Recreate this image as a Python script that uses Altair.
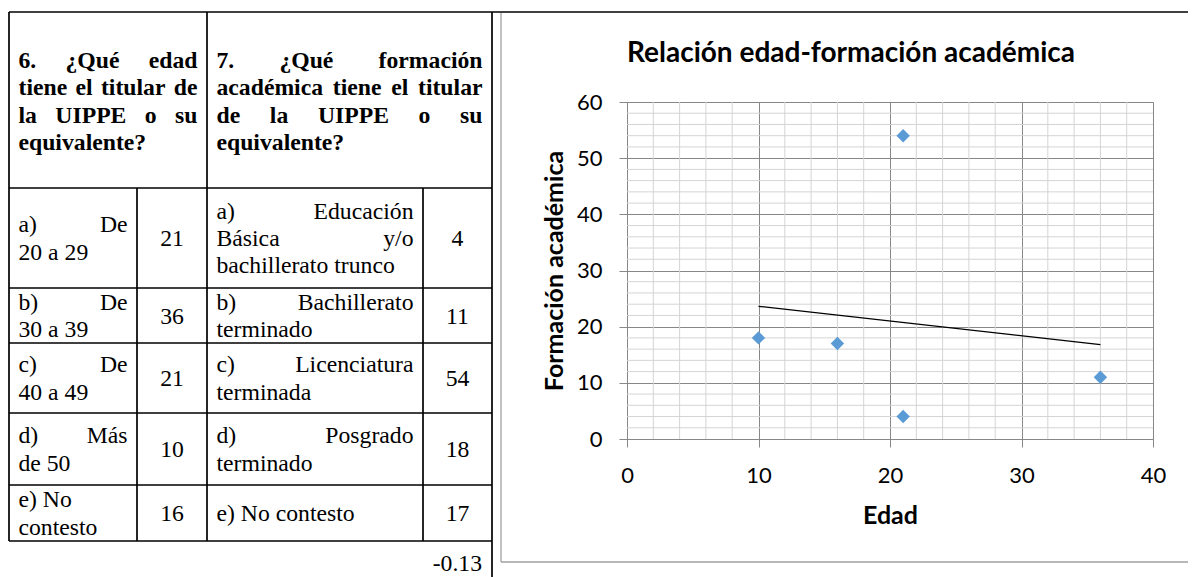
import altair as alt
import pandas as pd
import numpy as np

# ---------------- data ----------------
q6_text = "6. ¿Qué edad\ntiene el titular de\nla UIPPE o su\nequivalente?"
q7_text = "7. ¿Qué formación\nacadémica tiene el titular\nde la UIPPE o su\nequivalente?"
edad_labels = ["a) De\n20 a 29", "b) De\n30 a 39", "c) De\n40 a 49", "d) Más\nde 50", "e) No\ncontesto"]
edad_counts = [21, 36, 21, 10, 16]
form_labels = ["a) Educación\nBásica y/o\nbachillerato trunco", "b) Bachillerato\nterminado",
               "c) Licenciatura\nterminada", "d) Posgrado\nterminado", "e) No contesto"]
form_counts = [4, 11, 54, 18, 17]
chart_title = "Relación edad-formación académica"
x_title = "Edad"
y_title = "Formación académica"
x_ticks = [0, 10, 20, 30, 40]
y_ticks = [0, 10, 20, 30, 40, 50, 60]
x_minor = [2, 4, 6, 8, 12, 14, 16, 18, 22, 24, 26, 28, 32, 34, 36, 38]
y_minor = [2, 4, 6, 8, 12, 14, 16, 18, 22, 24, 26, 28, 32, 34, 36, 38,
           42, 44, 46, 48, 52, 54, 56, 58]

# ---------------- layout / style ----------------
COL_X = [9, 137, 207, 423, 492]            # table column borders (page px)
ROW_Y = [12, 188, 288, 343, 413, 485, 541]  # table row borders (page px)
PAD = 9.5
LH = 27.4
FS_TAB = 23.7
edad_justify = [True, True, True, True, False]
MAJOR = "#878787"
MINOR = "#d4d4d4"
BLUE = "#5B9BD5"

# Times bold advance widths (per 1000 em) for justified header lines
TB = {' ': 250, '.': 250, '?': 500, '¿': 500, '6': 500, '7': 500, 'Q': 778, 'U': 722,
      'I': 389, 'P': 611, 'E': 667, 'a': 500, 'c': 444, 'd': 556, 'e': 444, 'é': 444,
      'f': 333, 'i': 278, 'l': 278, 'm': 833, 'n': 556, 'o': 500, 'ó': 500, 'á': 500,
      'r': 444, 's': 389, 't': 333, 'u': 556, 'v': 500, 'q': 556}

texts = []


def put(text, x0, x1, yc, weight, justify=True):
    lines = text.split("\n")
    n = len(lines)
    for i, line in enumerate(lines):
        y = yc + (i - (n - 1) / 2) * LH
        words = line.split(" ")
        if justify and i < n - 1 and len(words) > 1:
            widths = [sum(TB.get(c, 500) for c in w) / 1000 * FS_TAB for w in words]
            gap = (x1 - x0 - sum(widths)) / (len(words) - 1)
            x = x0
            for j, w in enumerate(words):
                if j == len(words) - 1:
                    texts.append(dict(x=x1, y=y, t=w, a="right", w=weight))
                else:
                    texts.append(dict(x=x, y=y, t=w, a="left", w=weight))
                x += widths[j] + gap
        else:
            texts.append(dict(x=x0, y=y, t=line, a="left", w=weight))


hy = (ROW_Y[0] + ROW_Y[1]) / 2 + 2
put(q6_text, COL_X[0] + PAD, COL_X[2] - PAD, hy, "bold")
put(q7_text, COL_X[2] + PAD, COL_X[4] - PAD, hy, "bold")
for r in range(5):
    yc = (ROW_Y[r + 1] + ROW_Y[r + 2]) / 2 + 1
    put(edad_labels[r], COL_X[0] + PAD, COL_X[1] - PAD, yc, "normal", edad_justify[r])
    texts.append(dict(x=(COL_X[1] + COL_X[2]) / 2, y=yc, t=str(edad_counts[r]), a="center", w="normal"))
    put(form_labels[r], COL_X[2] + PAD, COL_X[3] - PAD, yc, "normal")
    texts.append(dict(x=(COL_X[3] + COL_X[4]) / 2, y=yc, t=str(form_counts[r]), a="center", w="normal"))

corr = np.corrcoef(edad_counts, form_counts)[0, 1]
texts.append(dict(x=COL_X[4] - 10, y=564, t=f"{corr:.2f}", a="right", w="normal"))
text_df = pd.DataFrame(texts)

rules = []


def seg(x, y, x2, y2, c="black", sw=1.7):
    rules.append(dict(x=x, y=y, x2=x2, y2=y2, c=c, sw=sw))


seg(COL_X[0], ROW_Y[0], 1200, ROW_Y[0])
for yy in ROW_Y[1:]:
    seg(COL_X[0], yy, COL_X[4], yy)
seg(COL_X[0], ROW_Y[0], COL_X[0], ROW_Y[-1])
seg(COL_X[2], ROW_Y[0], COL_X[2], ROW_Y[-1])
seg(COL_X[4], ROW_Y[0], COL_X[4], 590)
seg(COL_X[1], ROW_Y[1], COL_X[1], ROW_Y[-1])
seg(COL_X[3], ROW_Y[1], COL_X[3], ROW_Y[-1])
# chart frame
seg(501, 13, 501, 562, "#a0a0a0", 1.3)
seg(501, 562, 1200, 562, "#a0a0a0", 1.3)
rule_df = pd.DataFrame(rules)

TX = alt.Scale(domain=[0, 1196], range=[-627, 569], nice=False, zero=False)
TY = alt.Scale(domain=[0, 577], range=[-102, 475], nice=False, zero=False)

rule_layer = alt.Chart(rule_df).mark_rule().encode(
    x=alt.X("x:Q", scale=TX, axis=None),
    x2="x2:Q",
    y=alt.Y("y:Q", scale=TY, axis=None),
    y2="y2:Q",
    color=alt.Color("c:N", scale=None),
    strokeWidth=alt.StrokeWidth("sw:Q", scale=None),
)

text_layers = []
for (al, wt), sub in text_df.groupby(["a", "w"]):
    text_layers.append(
        alt.Chart(sub).mark_text(align=al, baseline="middle", font="Liberation Serif",
                                 fontSize=FS_TAB, fontWeight=wt, color="black").encode(
            x=alt.X("x:Q", scale=TX, axis=None),
            y=alt.Y("y:Q", scale=TY, axis=None),
            text="t:N",
        )
    )

title_layer = alt.Chart(pd.DataFrame({"x": [851], "y": [54], "t": [chart_title]})).mark_text(
    align="center", baseline="middle", font="Lato", fontSize=28, fontWeight="bold", color="black"
).encode(
    x=alt.X("x:Q", scale=TX, axis=None),
    y=alt.Y("y:Q", scale=TY, axis=None),
    text="t:N",
)

table = alt.layer(rule_layer, *text_layers, title_layer)

# ---------------- scatter ----------------
scatter_df = pd.DataFrame({"edad": edad_counts, "formacion": form_counts})
XS = alt.Scale(domain=[0, 40], nice=False, zero=False)
YS = alt.Scale(domain=[0, 60], nice=False, zero=False)

x_axis = alt.Axis(orient="bottom", values=x_ticks, title=x_title, grid=True, gridColor=MAJOR,
                  gridWidth=1, domainColor=MAJOR, domainWidth=1, tickColor=MAJOR, tickSize=8,
                  tickWidth=1, labelFont="Lato", labelFontSize=22, labelColor="black",
                  labelPadding=18, labelFlush=False, labelOverlap=False, titleFont="Lato",
                  titleFontSize=25, titleFontWeight="bold", titleColor="black", titlePadding=17)
y_axis = alt.Axis(orient="left", values=y_ticks, title=y_title, grid=True, gridColor=MAJOR,
                  gridWidth=1, domainColor=MAJOR, domainWidth=1, tickColor=MAJOR, tickSize=8,
                  tickWidth=1, labelFont="Lato", labelFontSize=22, labelColor="black",
                  labelPadding=17, labelFlush=False, labelOverlap=False, titleFont="Lato",
                  titleFontSize=25, titleFontWeight="bold", titleColor="black", titlePadding=9)

minor_x_layer = alt.Chart(pd.DataFrame({"edad": x_minor})).mark_rule(
    color=MINOR, strokeWidth=1).encode(x=alt.X("edad:Q", scale=XS, axis=x_axis))
minor_y_layer = alt.Chart(pd.DataFrame({"formacion": y_minor})).mark_rule(
    color=MINOR, strokeWidth=1).encode(y=alt.Y("formacion:Q", scale=YS, axis=y_axis))
trend = alt.Chart(scatter_df).transform_regression("edad", "formacion").mark_line(
    color="black", strokeWidth=1.3).encode(
    x=alt.X("edad:Q", scale=XS, axis=x_axis),
    y=alt.Y("formacion:Q", scale=YS, axis=y_axis))
points = alt.Chart(scatter_df).mark_point(shape="diamond", filled=True, size=180, color=BLUE,
                                          opacity=1).encode(
    x=alt.X("edad:Q", scale=XS, axis=x_axis),
    y=alt.Y("formacion:Q", scale=YS, axis=y_axis))

scatter = alt.layer(minor_x_layer, minor_y_layer, trend, points)

chart = alt.layer(table, scatter).resolve_scale(x="independent", y="independent").properties(
    width=526, height=337,
    autosize=alt.AutoSizeParams(type="none"),
    padding={"left": 619, "top": 94, "right": 35, "bottom": 138},
    background="white",
).configure_view(strokeWidth=0)

chart.save("out.html", embed_options={"renderer": "svg", "actions": False})
